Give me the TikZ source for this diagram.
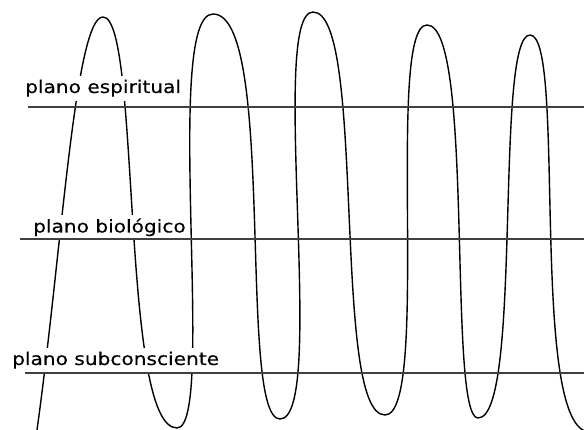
\documentclass[tikz,border=0pt]{standalone}
\usepackage{fontspec}
\newfontfamily\planefont[FakeStretch=1.15,FakeBold=0.3]{DejaVu Sans}
\begin{document}
\begin{tikzpicture}[x=1pt,y=-1pt,
  planelabel/.style={fill=white, inner sep=4pt, anchor=base west, font=\planefont\fontsize{17.5}{20}\selectfont},
  planeline/.style={line width=1.8pt, black!75},
  wave/.style={line width=1.4pt, black}]
\useasboundingbox (0,0) rectangle (584,430);
\clip (0,0) rectangle (584,430);

% the wave
\draw[wave] (37,430) .. controls (62,250) and (75,17) .. (103,17)
  .. controls +(38,0) and +(-57,0) .. (177,428)
  .. controls +(40,0) and +(-51,0) .. (213,14)
  .. controls +(64,0) and +(-43,0) .. (280,419)
  .. controls +(48,0) and +(-45,0) .. (313,12)
  .. controls +(54,0) and +(-54,0) .. (385,415)
  .. controls +(46,0) and +(-42,0) .. (427,25)
  .. controls +(48,0) and +(-31,0) .. (478,418)
  .. controls +(45,0) and +(-36,0) .. (530,35)
  .. controls +(37,0) and +(-62,0) .. (590,432);

% labels
\node[planelabel] (esp) at (21,93) {plano espiritual};
\node[planelabel] (bio) at (29,232.5) {plano biológico};
\node[planelabel] (sub) at (8,365) {plano subconsciente};

% planes
\coordinate (esp1) at (28,107);  \coordinate (esp2) at (584,107);
\coordinate (bio1) at (20,239);  \coordinate (bio2) at (584,239);
\coordinate (sub1) at (25,373);  \coordinate (sub2) at (584,373);
\draw[planeline] (esp1) -- (esp2);
\draw[planeline] (bio1) -- (bio2);
\draw[planeline] (sub1) -- (sub2);
\end{tikzpicture}
\end{document}
